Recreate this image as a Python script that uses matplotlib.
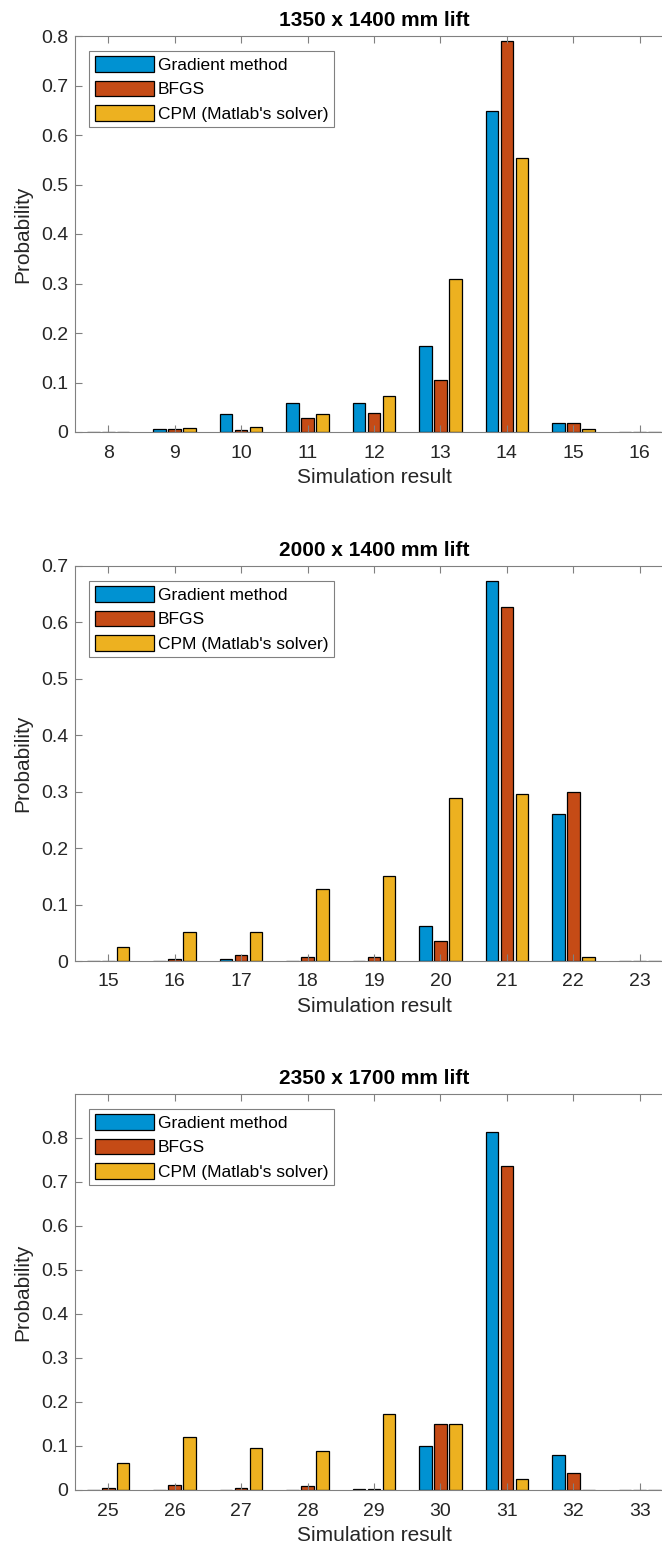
import numpy as np
import matplotlib
matplotlib.use("Agg")
import matplotlib.pyplot as plt

plt.rcParams['font.family'] = ['Liberation Sans', 'DejaVu Sans']

series_names = ["Gradient method", "BFGS", "CPM (Matlab's solver)"]
colors = ["#0092D2", "#C54B16", "#EDB120"]

titles = ["1350 x 1400 mm lift", "2000 x 1400 mm lift", "2350 x 1700 mm lift"]

x1 = [8, 9, 10, 11, 12, 13, 14, 15, 16]
grad1 = [0.001, 0.006, 0.036, 0.059, 0.059, 0.174, 0.648, 0.018, 0.001]
bfgs1 = [0.001, 0.006, 0.004, 0.028, 0.038, 0.106, 0.790, 0.018, 0.001]
cpm1 = [0.001, 0.009, 0.010, 0.037, 0.073, 0.310, 0.553, 0.007, 0.001]

x2 = [15, 16, 17, 18, 19, 20, 21, 22, 23]
grad2 = [0.0, 0.0, 0.003, 0.0, 0.0, 0.062, 0.674, 0.261, 0.0]
bfgs2 = [0.0, 0.003, 0.011, 0.007, 0.007, 0.035, 0.628, 0.299, 0.0]
cpm2 = [0.025, 0.052, 0.052, 0.127, 0.151, 0.289, 0.296, 0.007, 0.0]

x3 = [25, 26, 27, 28, 29, 30, 31, 32, 33]
grad3 = [0.001, 0.001, 0.001, 0.001, 0.003, 0.100, 0.814, 0.080, 0.0]
bfgs3 = [0.004, 0.011, 0.004, 0.008, 0.003, 0.150, 0.737, 0.038, 0.0]
cpm3 = [0.061, 0.120, 0.095, 0.089, 0.172, 0.150, 0.024, 0.001, 0.0]

ylims = [0.8, 0.7, 0.9]
yticks = [np.arange(0, 0.81, 0.1), np.arange(0, 0.71, 0.1), np.arange(0, 0.81, 0.1)]

data = [(x1, [grad1, bfgs1, cpm1]), (x2, [grad2, bfgs2, cpm2]), (x3, [grad3, bfgs3, cpm3])]

W, H = 662, 1551
fig = plt.figure(figsize=(W / 100, H / 100), dpi=100)

# panel tops / bottoms in pixels
tops = [36, 566, 1094]
bottoms = [432, 961, 1490]
left_px = 75
width_px = 598

axcol = "#808080"
txtcol = "#262626"

for i in range(3):
    x, vals = data[i]
    ax = fig.add_axes([left_px / W, 1 - bottoms[i] / H, width_px / W, (bottoms[i] - tops[i]) / H])
    x = np.array(x)
    offs = [-0.225, 0, 0.225]
    for k in range(3):
        ax.bar(x + offs[k], vals[k], width=0.19, color=colors[k], edgecolor="black",
               linewidth=0.9, label=series_names[k])
    ax.set_xlim(x[0] - 0.5, x[-1] + 0.5)
    ax.set_ylim(0, ylims[i])
    ax.set_xticks(x)
    ax.set_yticks(yticks[i])
    ax.set_yticklabels(["0"] + ["%.1f" % v for v in yticks[i][1:]])
    ax.tick_params(direction="in", top=True, right=False, colors=axcol,
                   labelcolor=txtcol, labelsize=14, length=5)
    ax.tick_params(axis="x", pad=9)
    ax.tick_params(axis="y", pad=5)
    for s in ax.spines.values():
        s.set_color(axcol)
    ax.set_title(titles[i], fontsize=15, fontweight="bold", color="black", pad=7)
    ax.set_xlabel("Simulation result", fontsize=15, color=txtcol, labelpad=5)
    ax.set_ylabel("Probability", fontsize=15, color=txtcol, labelpad=6)
    leg = ax.legend(loc="upper left", bbox_to_anchor=(0.024, 0.962), fontsize=12.5,
                    fancybox=False, framealpha=1, edgecolor=axcol, handlelength=3.4,
                    handleheight=1.0, handletextpad=0.25, labelspacing=0.45,
                    borderpad=0.3, borderaxespad=0)
    leg.get_frame().set_linewidth(0.8)

fig.savefig("out.png", dpi=100)
